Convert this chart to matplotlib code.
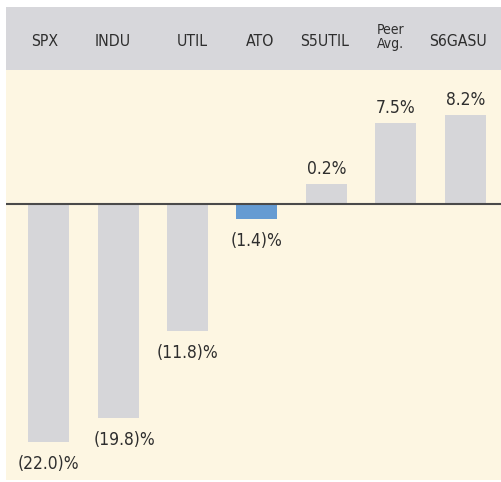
import matplotlib
matplotlib.use("Agg")
import matplotlib.pyplot as plt
from matplotlib import font_manager

# ---- data ----
categories = ["SPX", "INDU", "UTIL", "ATO", "S5UTIL", "Peer\nAvg.", "S6GASU"]
values = [-22.0, -19.8, -11.8, -1.4, 1.85, 7.5, 8.2]
value_labels = ["(22.0)%", "(19.8)%", "(11.8)%", "(1.4)%", "0.2%", "7.5%", "8.2%"]
highlight = "ATO"

# ---- style ----
GRAY_BAR = "#D6D6D9"
BLUE_BAR = "#659BD2"
CREAM = "#FDF6E2"
HEADER = "#D7D7DB"
TEXT = "#2E2E2E"
label_dx_px = [0, 6, 0, 0, 0, 0, 0]
header_dx_px = [-4, -5, 5, 3, -2, -5, -7]

def pick_font():
    for fam, stretch in [("Liberation Sans Narrow", "condensed"), ("DejaVu Sans", "condensed")]:
        try:
            fp = font_manager.FontProperties(family=fam, stretch=stretch)
            path = font_manager.findfont(fp, fallback_to_default=False)
            if ("Narrow" in path) or ("Condensed" in path):
                return fam, stretch
        except Exception:
            pass
    return "DejaVu Sans", "normal"

FAM, STRETCH = pick_font()

W, H = 502, 482
fig = plt.figure(figsize=(W / 100, H / 100), dpi=100)
fig.patch.set_facecolor("white")

ax = fig.add_axes([6 / W, 2 / H, 496 / W, 410 / H])
hax = fig.add_axes([6 / W, 1 - 70 / H, 496 / W, 63 / H])
for a, fc in ((ax, CREAM), (hax, HEADER)):
    a.set_facecolor(fc)
    for s in a.spines.values():
        s.set_visible(False)
    a.set_xticks([])
    a.set_yticks([])

x = list(range(len(categories)))
colors = [BLUE_BAR if c == highlight else GRAY_BAR for c in categories]
ax.bar(x, values, width=0.59, color=colors, zorder=2)
ax.axhline(0, color="#4A4A4A", lw=1.5, zorder=3)

px_per_unit = 69.4
x0_px = 49.0
xlim = ((6.5 - x0_px) / px_per_unit, (502 - x0_px) / px_per_unit)
ax.set_xlim(*xlim)
hax.set_xlim(*xlim)
hax.set_ylim(0, 63)
ax.set_ylim(-(480 - 204) / 10.8, (204 - 70) / 10.8)

pt = 72 / 100
for xi, v, lab, dx in zip(x, values, value_labels, label_dx_px):
    dy = 15 if v >= 0 else -22
    ax.annotate(lab, (xi, v), xytext=(dx * pt, dy * pt), textcoords="offset points",
                ha="center", va="center", fontsize=12.5, family=FAM, stretch=STRETCH, color=TEXT)

for xi, c, dx in zip(x, categories, header_dx_px):
    if "\n" in c:
        hax.annotate(c, (xi, 70 - 37), xytext=(dx * pt, 0), textcoords="offset points",
                     ha="center", va="center", fontsize=10, linespacing=0.95,
                     family=FAM, stretch=STRETCH, color=TEXT)
    else:
        hax.annotate(c, (xi, 70 - 42), xytext=(dx * pt, 0), textcoords="offset points",
                     ha="center", va="center", fontsize=11.3,
                     family=FAM, stretch=STRETCH, color=TEXT)

fig.savefig("out.png", dpi=100, facecolor="white")
